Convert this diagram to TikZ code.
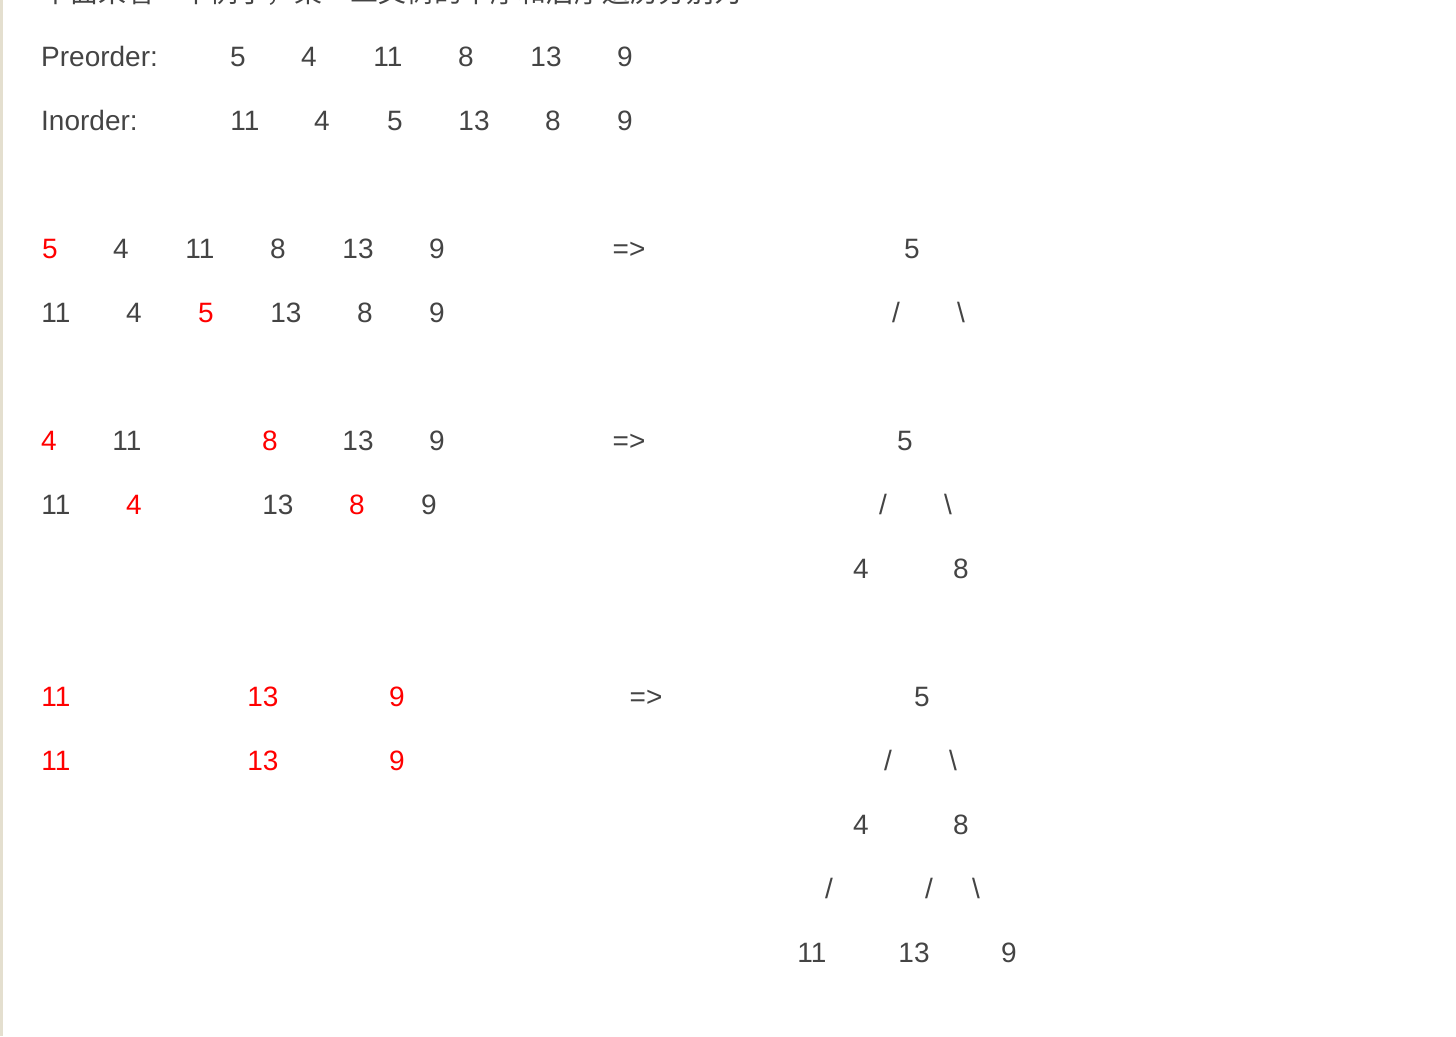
\documentclass[tikz,border=0pt]{standalone}
\usepackage{fontspec}
\setmainfont{Liberation Sans}
\newfontfamily\cjk{Noto Sans CJK SC}
\definecolor{Ink}{HTML}{444444}
\definecolor{Hot}{HTML}{FF0000}
\definecolor{Rule}{HTML}{E4DFCF}
\newcommand{\bs}{\textbackslash}

\begin{document}
\begin{tikzpicture}[
  x=1pt,y=-1pt,
  every node/.style={font=\fontsize{28}{32}\selectfont,inner sep=0pt,anchor=base,text=Ink},
  hot/.style={text=Hot},
  head/.style={anchor=base west}
]
\useasboundingbox (0,0) rectangle (1456,1036);
\clip (0,0) rectangle (1456,1036);
\fill[Rule] (0,0) rectangle (3,1036);
% intro line, cut at the top
\node[head,font=\cjk\fontsize{28}{32}\selectfont] (intro) at (42,2) {下面来看一个例子，某一二叉树的中序和后序遍历分别为};
% the two traversals
\node[head] (pre) at (41,66) {Preorder:};
\node (pre1) at (238,66) {5};
\node (pre2) at (309,66) {4};
\node (pre3) at (388,66) {11};
\node (pre4) at (466,66) {8};
\node (pre5) at (546,66) {13};
\node (pre6) at (625,66) {9};
\node[head] (ino) at (41,130) {Inorder:};
\node (ino1) at (245,130) {11};
\node (ino2) at (322,130) {4};
\node (ino3) at (395,130) {5};
\node (ino4) at (474,130) {13};
\node (ino5) at (553,130) {8};
\node (ino6) at (625,130) {9};
% step 1: root
\node[hot] (a1) at (50,258) {5};
\node (a2) at (121,258) {4};
\node (a3) at (200,258) {11};
\node (a4) at (278,258) {8};
\node (a5) at (358,258) {13};
\node (a6) at (437,258) {9};
\node (b1) at (56,322) {11};
\node (b2) at (134,322) {4};
\node[hot] (b3) at (206,322) {5};
\node (b4) at (286,322) {13};
\node (b5) at (365,322) {8};
\node (b6) at (437,322) {9};
\node (aTo) at (629,258) {=>};
\node (aRoot) at (912,258) {5};
\node (aL) at (896,322) {/};
\node (aR) at (961,322) {\bs};
% step 2: children of the root
\node[hot] (c1) at (49,450) {4};
\node (c2) at (127,450) {11};
\node[hot] (c3) at (270,450) {8};
\node (c4) at (358,450) {13};
\node (c5) at (437,450) {9};
\node (d1) at (56,514) {11};
\node[hot] (d2) at (134,514) {4};
\node (d3) at (278,514) {13};
\node[hot] (d4) at (357,514) {8};
\node (d5) at (429,514) {9};
\node (bTo) at (629,450) {=>};
\node (bRoot) at (905,450) {5};
\node (bL) at (883,514) {/};
\node (bR) at (948,514) {\bs};
\node (bFour) at (861,578) {4};
\node (bEight) at (961,578) {8};
% step 3: leaves
\node[hot] (e1) at (56,706) {11};
\node[hot] (e2) at (263,706) {13};
\node[hot] (e3) at (397,706) {9};
\node[hot] (f1) at (56,770) {11};
\node[hot] (f2) at (263,770) {13};
\node[hot] (f3) at (397,770) {9};
\node (cTo) at (646,706) {=>};
\node (cRoot) at (922,706) {5};
\node (cL) at (888,770) {/};
\node (cR) at (953,770) {\bs};
\node (cFour) at (861,834) {4};
\node (cEight) at (961,834) {8};
\node (cLL) at (829,898) {/};
\node (cRL) at (929,898) {/};
\node (cRR) at (976,898) {\bs};
\node (cEleven) at (812,962) {11};
\node (cThirteen) at (914,962) {13};
\node (cNine) at (1009,962) {9};
\end{tikzpicture}
\end{document}
